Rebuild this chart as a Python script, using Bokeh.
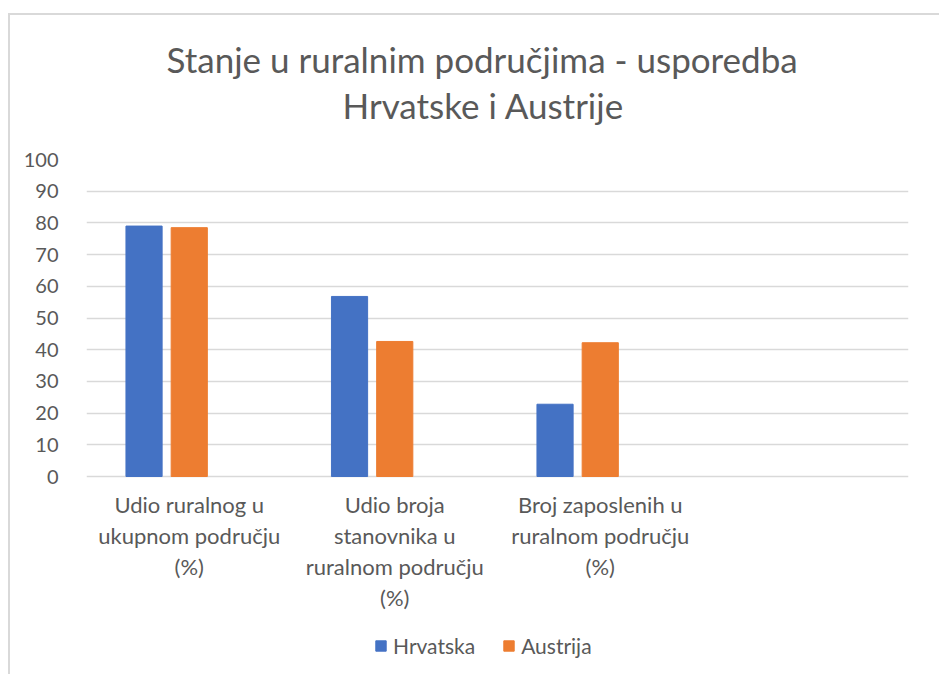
from bokeh.plotting import figure
from bokeh.models import FactorRange, Range1d, Title, Legend, LegendItem, ColumnDataSource, FixedTicker
from bokeh.core.properties import value
from bokeh.transform import dodge
from bokeh.embed import file_html
from bokeh.resources import INLINE

categories = [
    "Udio ruralnog u\nukupnom području\n(%)",
    "Udio broja\nstanovnika u\nruralnom području\n(%)",
    "Broj zaposlenih u\nruralnom području\n(%)",
]
empty_slot = [" "]
hrvatska = [79.0, 56.8, 22.8]
austrija = [78.5, 42.6, 42.2]
y_ticks = list(range(0, 101, 10))
series = ["Hrvatska", "Austrija"]
colors = ["#4472C4", "#ED7D31"]
title_lines = ["Stanje u ruralnim područjima - usporedba", "Hrvatske i Austrije"]

FONT = "Lato"
TXT = "#595959"
GRID = "#D9D9D9"

# layout (pixels)
PLOT_H = 317          # height of the 0..100 value area
BELOW_H = 194         # room under the zero line for category labels and legend
Y_MAX = y_ticks[-1]
y_start = -Y_MAX * BELOW_H / PLOT_H

src = ColumnDataSource(dict(cat=categories, hr=hrvatska, at=austrija,
                            zero=[0] * len(categories)))

p = figure(
    x_range=FactorRange(*categories, *empty_slot, range_padding=0),
    y_range=Range1d(y_start, Y_MAX),
    frame_width=822, frame_height=PLOT_H + BELOW_H,
    output_backend="svg", toolbar_location=None,
    min_border_left=76, min_border_right=32,
    min_border_top=144, min_border_bottom=4,
    margin=(13, 0, 0, 8),
)
p.styles = {"border-left": "2px solid #D9D9D9", "border-top": "2px solid #D9D9D9"}

r1 = p.vbar(x=dodge("cat", -0.22, range=p.x_range), top="hr", width=0.176,
            source=src, fill_color=colors[0], line_color=colors[0])
r2 = p.vbar(x=dodge("cat", 0.0, range=p.x_range), top="at", width=0.176,
            source=src, fill_color=colors[1], line_color=colors[1])

# category labels under the zero line
p.text(x="cat", y="zero", text="cat", source=src, y_offset=14,
       text_align="center", text_baseline="top", text_font=value(FONT),
       text_font_size="22px", text_color=TXT, text_line_height=1.15)

p.outline_line_color = None
p.xgrid.grid_line_color = None
p.ygrid.grid_line_color = GRID
p.ygrid.grid_line_width = 1.5
p.yaxis.ticker = FixedTicker(ticks=y_ticks)
p.yaxis.axis_line_color = None
p.yaxis.major_tick_line_color = None
p.yaxis.minor_tick_line_color = None
p.yaxis.major_label_text_font = FONT
p.yaxis.major_label_text_font_size = "20px"
p.yaxis.major_label_text_color = TXT
p.yaxis.major_label_standoff = 22
p.xaxis.visible = False

legend = Legend(
    items=[LegendItem(label=series[0], renderers=[r1]),
           LegendItem(label=series[1], renderers=[r2])],
    orientation="horizontal", location=(288, 12),
    glyph_width=13, glyph_height=13, label_standoff=6, spacing=27,
    label_text_font=FONT, label_text_font_size="21px", label_text_color=TXT,
    border_line_color=None, background_fill_alpha=0, padding=0, margin=0,
)
p.add_layout(legend, "center")

spacer = Title(text=" ", text_font_size="10px", standoff=20)
t2 = Title(text=title_lines[1], align="left", text_font=FONT, text_font_size="35px",
           text_font_style="normal", text_color=TXT, standoff=2, offset=256)
t1 = Title(text=title_lines[0], align="left", text_font=FONT, text_font_size="35px",
           text_font_style="normal", text_color=TXT, standoff=2, offset=80)
p.add_layout(spacer, "above")
p.add_layout(t2, "above")
p.add_layout(t1, "above")

open("out.html", "w").write(file_html(p, INLINE))
